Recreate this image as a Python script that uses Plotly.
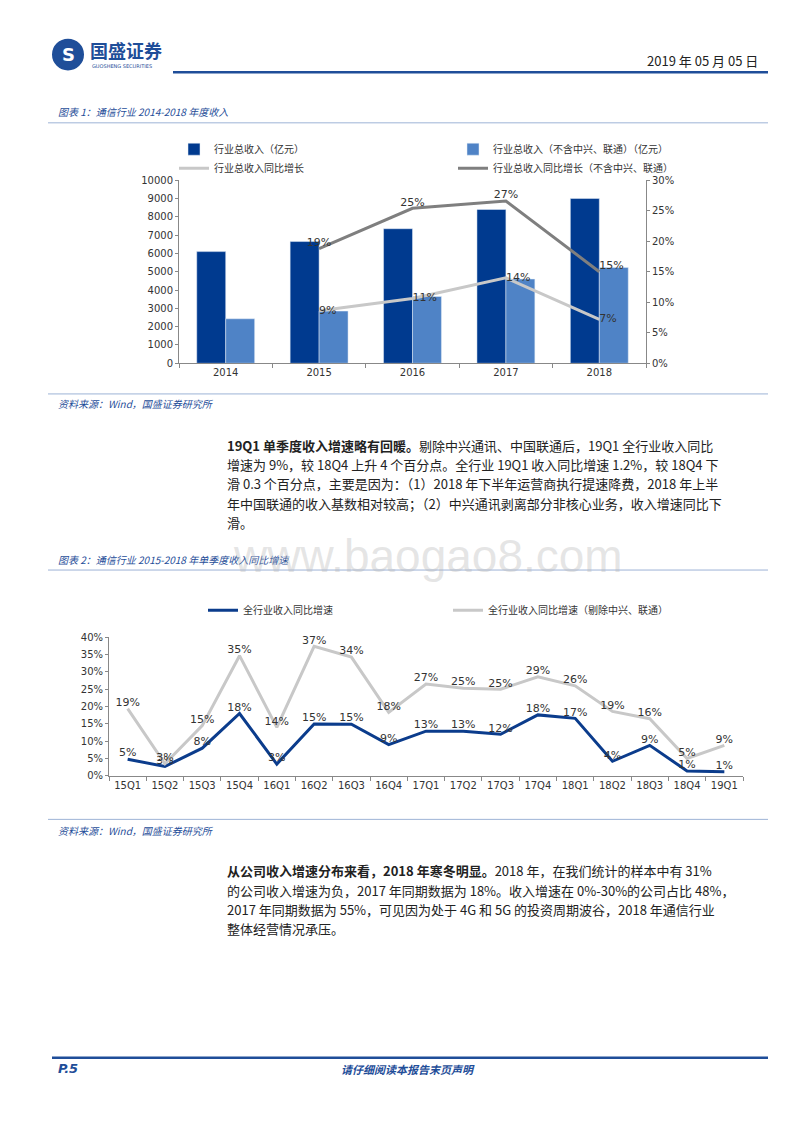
import plotly.graph_objects as go

W, H = 800, 1132
def px(x): return x / W
def py(y): return 1 - y / H

# Chart 1 data
years = ["2014", "2015", "2016", "2017", "2018"]
rev_total = [6100, 6650, 7350, 8400, 9000]
rev_excl = [2430, 2850, 3650, 4600, 5230]
gr_years = ["2015", "2016", "2017", "2018"]
gr_total = [8.6, 10.6, 14.0, 7.2]
gr_excl = [18.8, 25.4, 26.6, 15.0]
gr_total_lbl = ["9%", "11%", "14%", "7%"]
gr_excl_lbl = ["19%", "25%", "27%", "15%"]

# Chart 2 data
quarters = ["15Q1","15Q2","15Q3","15Q4","16Q1","16Q2","16Q3","16Q4","17Q1","17Q2","17Q3","17Q4","18Q1","18Q2","18Q3","18Q4","19Q1"]
q_all = [4.8, 2.7, 8.0, 18.0, 3.4, 15.0, 14.9, 9.0, 12.9, 12.9, 12.0, 17.6, 16.6, 4.2, 8.8, 1.4, 1.2]
q_excl = [19.4, 3.5, 14.5, 34.7, 14.0, 37.4, 34.3, 18.3, 26.5, 25.3, 25.0, 28.6, 26.0, 18.6, 16.5, 5.0, 8.8]
q_all_lbl = ["5%","3%","8%","18%","3%","15%","15%","9%","13%","13%","12%","18%","17%","4%","9%","1%","1%"]
q_excl_lbl = ["19%","3%","15%","35%","14%","37%","34%","18%","27%","25%","25%","29%","26%","19%","16%","5%","9%"]

DARK = "#003A8F"
LIGHT = "#4F83C6"
CJK = "Noto Sans CJK SC"
fig = go.Figure()

lblfont = dict(size=11, color="#333", family="DejaVu Sans")
fig.add_trace(go.Bar(x=years, y=rev_total, name="行业总收入（亿元）", marker_color=DARK, legend="legend"))
fig.add_trace(go.Bar(x=years, y=rev_excl, name="行业总收入（不含中兴、联通）（亿元）", marker_color=LIGHT, legend="legend"))
fig.add_trace(go.Scatter(x=gr_years, y=gr_total, name="行业总收入同比增长", yaxis="y2", mode="lines+text",
                         line=dict(color="#C8C8C8", width=3), text=gr_total_lbl, cliponaxis=False,
                         textposition="middle right", textfont=lblfont, legend="legend"))
fig.add_trace(go.Scatter(x=gr_years, y=gr_excl, name="行业总收入同比增长（不含中兴、联通）", yaxis="y2", mode="lines+text",
                         line=dict(color="#7F7F7F", width=3), text=gr_excl_lbl, cliponaxis=False,
                         textposition=["top center", "top center", "top center", "top right"],
                         textfont=lblfont, legend="legend"))

fig.add_trace(go.Scatter(x=quarters, y=q_all, name="全行业收入同比增速", xaxis="x3", yaxis="y3", mode="lines+text",
                         line=dict(color="#0B3C8C", width=3), text=q_all_lbl, textposition="top center",
                         cliponaxis=False, textfont=lblfont, legend="legend2"))
fig.add_trace(go.Scatter(x=quarters, y=q_excl, name="全行业收入同比增速（剔除中兴、联通）", xaxis="x3", yaxis="y3", mode="lines+text",
                         line=dict(color="#C8C8C8", width=3), text=q_excl_lbl, textposition="top center",
                         cliponaxis=False, textfont=lblfont, legend="legend2"))

axfont = dict(family="DejaVu Sans", size=10, color="#333")
fig.update_layout(
    width=W, height=H, margin=dict(l=0, r=0, t=0, b=0),
    paper_bgcolor="white", plot_bgcolor="white",
    font=dict(family=CJK, size=10, color="#333"),
    barmode="group", bargap=0.38, bargroupgap=0, showlegend=True,
    xaxis=dict(domain=[px(171), px(638)], anchor="y", showline=True, linecolor="#888",
               ticks="outside", tickson="boundaries", ticklen=4, tickcolor="#888",
               tickfont=axfont, showgrid=False),
    yaxis=dict(domain=[py(353), py(168)], range=[0, 10000], dtick=1000, tickformat="d", showgrid=False,
               showline=True, linecolor="#888", ticks="outside", ticklen=3, tickcolor="#888",
               tickfont=axfont, zeroline=False),
    yaxis2=dict(overlaying="y", side="right", range=[0, 30], dtick=5, ticksuffix="%",
                showgrid=False, showline=True, linecolor="#888", ticks="outside", ticklen=3,
                tickcolor="#888", tickfont=axfont, anchor="x", zeroline=False),
    xaxis3=dict(domain=[px(101), px(735)], anchor="y3", showline=True, linecolor="#888",
                ticks="outside", tickson="boundaries", tickcolor="#888", ticklen=4, tickfont=axfont,
                showgrid=False, range=[-0.5, 16.5]),
    yaxis3=dict(domain=[py(770), py(630)], range=[0, 40], dtick=5, ticksuffix="%", anchor="x3",
                showgrid=False, showline=True, linecolor="#888", ticks="outside", ticklen=3,
                tickcolor="#888", tickfont=axfont, zeroline=False),
    legend=dict(orientation="h", x=px(166), y=py(122), xanchor="left", yanchor="top",
                entrywidth=234, font=dict(size=10, color="#333"), tracegroupgap=0,
                itemwidth=30, bgcolor="rgba(0,0,0,0)", traceorder="normal"),
    legend2=dict(orientation="h", x=px(195), y=py(588), xanchor="left", yanchor="top",
                 entrywidth=200, font=dict(size=10, color="#333"), itemwidth=30,
                 bgcolor="rgba(0,0,0,0)"),
)

shapes = []
def hline(x0, x1, y, color, w):
    shapes.append(dict(type="line", xref="paper", yref="paper", x0=px(x0), x1=px(x1),
                       y0=py(y), y1=py(y), line=dict(color=color, width=w)))
hline(165, 760, 59, "#1F4E99", 2.5)
hline(40, 760, 110, "#9DB3D6", 1)
hline(40, 760, 384, "#9DB3D6", 1)
hline(40, 760, 562, "#9DB3D6", 1)
hline(40, 760, 814, "#9DB3D6", 1)
hline(44, 760, 1055, "#1F4E99", 2.5)
shapes.append(dict(type="circle", xref="paper", yref="paper", x0=px(45), x1=px(75),
                   y0=py(56), y1=py(26), fillcolor="#1F4E99", line=dict(color="#1F4E99")))
fig.update_layout(shapes=shapes)

ann = []
def text(x, y, s, size=13, color="#222", anchor="left", family=CJK):
    ann.append(dict(x=px(x), y=py(y), xref="paper", yref="paper", text=s, showarrow=False,
                    xanchor=anchor, yanchor="middle", font=dict(size=size, color=color, family=family)))

text(60, 41, "<b>S</b>", 18, "white", "center", "DejaVu Sans")
text(80, 36, "<b>国盛证券</b>", 18, "#1F4E99")
text(82, 53, "GUOSHENG SECURITIES", 5, "#1F4E99", family="DejaVu Sans")
text(752, 47, "2019 年 05 月 05 日", 13, "#222", "right")
text(48, 99, "<i>图表 1：通信行业 2014-2018 年度收入</i>", 10, "#1F4E99")
text(48, 394, "<i>资料来源：Wind，国盛证券研究所</i>", 10, "#1F4E99")
text(48, 551, "<i>图表 2：通信行业 2015-2018 年单季度收入同比增速</i>", 10, "#1F4E99")
text(48, 825, "<i>资料来源：Wind，国盛证券研究所</i>", 10, "#1F4E99")
text(420, 548, "www.baogao8.com", 46, "rgba(180,180,180,0.35)", "center", "Liberation Sans")

p1 = ["<b>19Q1 单季度收入增速略有回暖。</b>剔除中兴通讯、中国联通后，19Q1 全行业收入同比",
      "增速为 9%，较 18Q4 上升 4 个百分点。全行业 19Q1 收入同比增速 1.2%，较 18Q4 下",
      "滑 0.3 个百分点，主要是因为：（1）2018 年下半年运营商执行提速降费，2018 年上半",
      "年中国联通的收入基数相对较高；（2）中兴通讯剥离部分非核心业务，收入增速同比下",
      "滑。"]
for i, s in enumerate(p1):
    text(217, 436 + i * 19.5, s, 13)
p2 = ["<b>从公司收入增速分布来看，2018 年寒冬明显。</b>2018 年，在我们统计的样本中有 31%",
      "的公司收入增速为负，2017 年同期数据为 18%。收入增速在 0%-30%的公司占比 48%，",
      "2017 年同期数据为 55%，可见因为处于 4G 和 5G 的投资周期波谷，2018 年通信行业",
      "整体经营情况承压。"]
for i, s in enumerate(p2):
    text(217, 866 + i * 19.5, s, 13)

text(48, 1066, "<b><i>P.5</i></b>", 13, "#1F4E99", family="DejaVu Sans")
text(400, 1066, "<b><i>请仔细阅读本报告末页声明</i></b>", 11, "#1F4E99", "center")
fig.update_layout(annotations=ann)

fig.write_html("out.html")
